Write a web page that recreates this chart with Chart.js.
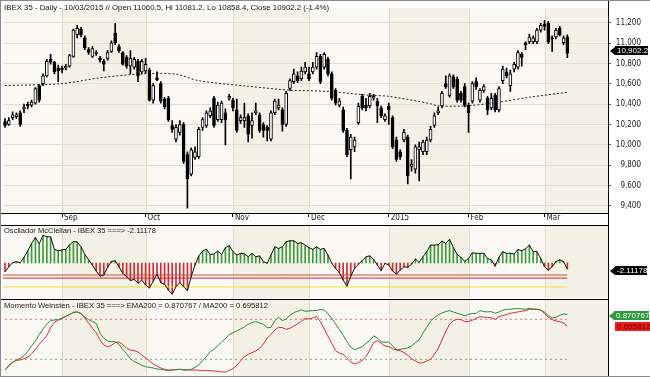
<!DOCTYPE html>
<html>
<head>
<meta charset="utf-8">
<script src="https://cdn.jsdelivr.net/npm/chart.js@4.4.1/dist/chart.umd.min.js"></script>
<style>
html, body { margin: 0; padding: 0; background: #fff; }
#wrap { position: relative; width: 650px; height: 377px; overflow: hidden; background: #fff; font-family: Arial, 'Liberation Sans', sans-serif; }
canvas { position: absolute; left: 0; }
.title { position: absolute; left: 4px; font-size: 8px; line-height: 10px; color: #1a1a1a; white-space: nowrap; transform-origin: 0 50%; }
.badge { position: absolute; right: 0; height: 9px; display: flex; align-items: center; overflow: hidden; }
.arr { width: 0; height: 0; border-top: 4.5px solid transparent; border-bottom: 4.5px solid transparent; border-right: 5px solid #000; }
.box { height: 9px; line-height: 9px; font-size: 8px; padding-left: 2px; white-space: nowrap; }
#frame { position: absolute; left: 0; top: 0; width: 650px; height: 377px; box-sizing: border-box; border: 1px solid #8a8a8a; border-right: none; pointer-events: none; }
</style>
</head>
<body>
<div id="wrap">
  <canvas id="priceChart" width="650" height="225" style="top:0"></canvas>
  <canvas id="mccChart" width="650" height="74" style="top:225px"></canvas>
  <canvas id="momChart" width="650" height="77" style="top:299px"></canvas>

  <div class="title" id="t1" style="top:3px">IBEX 35 - Daily - 10/03/2015 // Open 11060.5, Hi 11081.2, Lo 10858.4, Close 10902.2 (-1.4%)</div>
  <div class="title" id="t2" style="top:226px">Oscilador McClellan - IBEX 35 ===&gt; -2.11178</div>
  <div class="title" id="t3" style="top:301px">Momento Weinsten - IBEX 35 ===&gt; EMA200 = 0.870767 / MA200 = 0.695812</div>

  <div class="badge" style="top:46px; left:610px"><span class="arr"></span><span class="box" style="background:#000;color:#fff">10,902.2</span></div>
  <div class="badge" style="top:266px; left:610px"><span class="arr"></span><span class="box" style="background:#000;color:#fff">-2.11178</span></div>
  <div class="badge" style="top:311px; left:609px"><span class="arr" style="border-right-color:#2f9a3c"></span><span class="box" style="background:#2f9a3c;color:#fff">0.870767</span></div>
  <div class="badge" style="top:322px; left:615px"><span class="box" style="background:#ee1c1c;color:#5a0000">0.695812</span></div>
  <div id="frame"></div>
</div>
<script>
// daily candles, 11 Aug 2014 .. 10 Mar 2015 (index = trading day)
const opens = [10229,10200,10267,10277,10315,10353,10401,10391,10410,10583,
  10602,10678,10841,10812,10755,10755,10755,10774,10870,11080,
  11138,11052,10937,10870,10908,10851,10822,10851,10918,11100,
  10966,10908,10860,10774,10765,10822,10717,10726,10736,10439,
  10659,10602,10449,10458,10190,10056,10123,10200,9903,9712,
  9875,9884,10171,10190,10286,10458,10248,10248,10315,10458,
  10439,10343,10238,10238,10286,10190,10315,10296,10200,10171,
  10056,10315,10363,10343,10200,10554,10621,10678,10650,10717,
  10698,10717,10765,10870,10765,10841,10698,10535,10391,10343,
  10142,9951,9980,10219,10477,10391,10382,10458,10430,10363,
  10248,10382,10267,10047,9932,10047,10075,9788,9760,9951,
  9932,9932,10047,10190,10315,10382,10602,10487,10669,10650,
  10506,10573,10391,10430,10621,10439,10535,10458,10363,10487,
  10343,10631,10717,10583,10745,10765,10889,11004,11013,11013,
  11013,11128,11186,11195,11052,11061,11147,11004,11060.5];
const highs = [10257,10267,10324,10315,10334,10401,10420,10439,10564,10592,
  10698,10841,10889,10822,10784,10774,10793,10889,11138,11176,
  11157,11071,10956,10966,10927,10870,10841,10927,11023,11195,
  10985,10918,10879,10927,10860,10841,10841,10851,10755,10602,
  10717,10621,10468,10477,10238,10200,10238,10219,9932,9970,
  9980,10171,10267,10334,10363,10477,10420,10430,10353,10497,
  10458,10449,10296,10410,10305,10315,10410,10315,10219,10190,
  10334,10449,10449,10363,10525,10650,10745,10717,10765,10812,
  10765,10812,10908,10889,10908,10860,10717,10554,10458,10372,
  10162,10104,10075,10410,10497,10458,10506,10497,10458,10382,
  10305,10410,10286,10075,9951,10152,10095,9855,9999,10028,
  10047,10075,10181,10315,10372,10525,10678,10698,10688,10669,
  10525,10602,10410,10621,10659,10554,10592,10477,10506,10506,
  10573,10774,10755,10736,10812,10927,10908,11013,11090,11071,
  11147,11195,11224,11214,11071,11147,11166,11071,11081.2];
const lows = [10171,10190,10248,10257,10181,10315,10353,10372,10401,10420,
  10583,10669,10793,10698,10621,10707,10736,10765,10860,11052,
  11061,10937,10889,10860,10879,10812,10726,10832,10908,10985,
  10908,10784,10755,10698,10745,10621,10698,10707,10430,10410,
  10631,10410,10353,10229,10123,10028,10095,9817,9377,9693,
  9855,9865,10142,10171,10267,10171,10229,10219,9999,10439,
  10334,10123,10210,10171,10028,10066,10296,10123,10075,10037,
  10037,10296,10343,10133,10181,10535,10602,10611,10631,10698,
  10631,10698,10745,10602,10745,10678,10439,10391,10372,10123,
  9884,9664,9932,10200,10343,10334,10363,10439,10219,10267,
  10229,10200,9961,9836,9855,10028,9616,9740,9721,9645,
  9903,9903,10028,10171,10296,10363,10554,10468,10554,10420,
  10420,10372,10123,10410,10544,10420,10516,10296,10343,10324,
  10324,10602,10659,10525,10717,10745,10774,10937,10994,10994,
  10994,11109,11128,10994,10918,11042,11071,10985,10858.4];
const closes = [10190,10238,10296,10296,10200,10372,10382,10420,10554,10439,
  10678,10822,10812,10717,10726,10736,10774,10879,11128,11147,
  11080,10956,10908,10946,10898,10832,10793,10908,11004,11004,
  10927,10793,10774,10851,10841,10678,10822,10793,10439,10583,
  10640,10430,10372,10248,10152,10171,10200,9836,9664,9951,
  9932,10152,10248,10315,10334,10190,10391,10410,10248,10477,
  10363,10142,10267,10267,10104,10238,10334,10142,10142,10142,
  10315,10430,10391,10200,10506,10631,10698,10631,10726,10765,
  10650,10765,10870,10621,10889,10698,10458,10410,10430,10142,
  9903,10075,10047,10382,10363,10363,10477,10477,10382,10286,
  10286,10343,9980,9855,9884,10123,9693,9808,9980,9980,
  10028,10047,10152,10286,10334,10506,10573,10678,10573,10439,
  10439,10391,10315,10602,10573,10535,10573,10343,10458,10343,
  10554,10745,10678,10698,10793,10908,10860,10985,11061,11052,
  11128,11176,11166,11013,11042,11128,11080,11052,10902.2];

// 200-day moving average (dotted), read at selected days
const maDay = [0, 15, 25, 36, 45, 51, 64, 75, 85, 96, 101, 112, 114, 122, 130, 138, 148];
const maPrice = [10583, 10602, 10659, 10698, 10695, 10631, 10576, 10538, 10525, 10487, 10477, 10404, 10382, 10385, 10420, 10468, 10516];

// McClellan oscillator
const mcc = [-3.0,-1.3,0.1,0.5,0.1,2.0,4.3,6.9,9.0,6.7,
  9.8,9.2,9.2,4.8,4.3,4.6,4.8,6.4,7.5,7.4,
  5.7,3.0,1.1,-0.7,-2.8,-4.6,-4.2,-1.5,0.6,0.8,
  -1.3,-3.6,-4.8,-6.2,-5.7,-7.1,-6.0,-7.7,-8.7,-6.5,
  -3.9,-6.9,-7.5,-9.5,-10.9,-8.3,-6.9,-8.3,-9.7,-4.8,
  -0.7,2.5,4.2,4.9,3.0,3.2,4.2,3.0,5.4,6.1,
  4.0,2.8,3.4,3.2,2.2,3.4,2.2,2.5,0.5,-0.1,
  2.8,5.7,5.1,5.7,7.5,7.8,7.8,6.9,7.1,6.3,
  5.4,4.8,5.7,4.8,5.1,2.8,-0.1,-1.9,-3.4,-6.0,
  -8.1,-4.6,-1.9,-0.4,0.8,2.2,2.5,1.3,-0.7,-2.7,
  -0.1,-0.7,-2.8,-3.9,-2.5,-1.3,-1.5,-0.4,1.4,0.2,
  2.2,4.0,6.3,6.3,6.4,7.7,6.9,8.3,5.5,3.0,
  2.0,0.6,1.6,3.6,3.4,3.4,3.4,1.6,1.1,-1.1,
  2.0,4.0,3.4,3.4,3.2,4.8,4.3,5.0,6.3,4.0,
  4.0,1.6,-1.3,-2.5,-1.3,0.5,1.1,0.5,-2.11178];
const mccLevels = [-4.2, -5.3, -8.4];

// Momento Weinstein
const ema200 = [0.04,0.10,0.15,0.19,0.215,0.255,0.32,0.40,0.475,0.57,
  0.655,0.725,0.78,0.79,0.795,0.82,0.845,0.875,0.90,0.91,
  0.88,0.835,0.795,0.765,0.74,0.59,0.515,0.475,0.465,0.465,
  0.425,0.35,0.285,0.21,0.165,0.14,0.11,0.09,0.08,0.07,
  0.055,0.05,0.04,0.035,0.04,0.045,0.05,0.045,0.04,0.05,
  0.08,0.115,0.18,0.24,0.315,0.35,0.405,0.46,0.51,0.57,
  0.60,0.625,0.655,0.685,0.725,0.75,0.765,0.745,0.725,0.675,
  0.68,0.78,0.83,0.78,0.805,0.86,0.90,0.92,0.94,0.92,
  0.925,0.93,0.93,0.945,0.94,0.88,0.815,0.73,0.65,0.56,
  0.465,0.38,0.345,0.365,0.39,0.44,0.48,0.55,0.52,0.46,
  0.455,0.46,0.405,0.34,0.35,0.36,0.37,0.40,0.45,0.49,
  0.59,0.68,0.77,0.825,0.865,0.895,0.915,0.93,0.91,0.89,
  0.875,0.85,0.875,0.885,0.89,0.93,0.915,0.91,0.915,0.89,
  0.91,0.935,0.95,0.95,0.96,0.96,0.955,0.95,0.965,0.955,
  0.95,0.94,0.905,0.855,0.82,0.83,0.86,0.88,0.870767];
const ma200 = [0.04,0.11,0.16,0.185,0.19,0.21,0.235,0.28,0.35,0.425,
  0.49,0.555,0.675,0.755,0.785,0.81,0.845,0.87,0.905,0.91,
  0.89,0.82,0.745,0.665,0.60,0.49,0.415,0.385,0.41,0.45,
  0.46,0.42,0.365,0.34,0.33,0.31,0.265,0.22,0.18,0.13,
  0.10,0.07,0.05,0.04,0.04,0.045,0.05,0.04,0.04,0.04,
  0.04,0.035,0.03,0.03,0.03,0.025,0.02,0.01,0.01,0.035,
  0.06,0.11,0.175,0.24,0.275,0.30,0.325,0.365,0.43,0.515,
  0.575,0.64,0.68,0.675,0.65,0.665,0.70,0.73,0.77,0.81,
  0.805,0.82,0.84,0.765,0.655,0.55,0.44,0.33,0.295,0.275,
  0.215,0.16,0.13,0.15,0.185,0.24,0.335,0.45,0.48,0.44,
  0.40,0.39,0.36,0.34,0.33,0.30,0.26,0.21,0.175,0.145,
  0.15,0.175,0.20,0.275,0.36,0.49,0.615,0.725,0.78,0.80,
  0.795,0.765,0.765,0.785,0.815,0.84,0.83,0.83,0.82,0.80,
  0.84,0.855,0.87,0.89,0.90,0.91,0.92,0.93,0.95,0.95,
  0.95,0.935,0.885,0.83,0.795,0.775,0.765,0.745,0.695812];
const momLevels = [0.8, 0.2];

// month starts (trading-day index) and their labels
const monthDay = [15, 37, 60, 80, 101, 122, 142];
const monthLabel = ['Sep', 'Oct', 'Nov', 'Dec', '2015', 'Feb', 'Mar'];
const priceTicks = [9400, 9600, 9800, 10000, 10200, 10400, 10600, 10800, 11000, 11200];

const X_MIN = -0.53, X_MAX = 158.7;
const CREAM = '#f3f1e5', LIGHT = '#f9f8f2';
const lastDay = closes.length - 1;
const tickFont = { family: "'Liberation Sans Narrow', 'Arial Narrow', 'DejaVu Sans Condensed', Arial, sans-serif", size: 8 };

// month bands behind every panel
const bandPlugin = {
    id: 'bands',
    beforeDraw(chart) {
        const { ctx, chartArea: a, scales: { x } } = chart;
        ctx.save();
        ctx.fillStyle = CREAM;
        ctx.fillRect(a.left, a.top, a.width, a.height);
        const edges = [X_MIN, ...monthDay, X_MAX];
        for (let k = 0; k < edges.length - 1; k += 2) {
            const x0 = x.getPixelForValue(edges[k]);
            const x1 = x.getPixelForValue(edges[k + 1]);
            ctx.fillStyle = LIGHT;
            ctx.fillRect(x0, a.top, x1 - x0, a.height);
        }
        ctx.strokeStyle = '#dedbcb';
        ctx.lineWidth = 1;
        monthDay.forEach(d => {
            const px = Math.round(x.getPixelForValue(d)) + 0.5;
            ctx.beginPath();
            ctx.moveTo(px, a.top);
            ctx.lineTo(px, a.bottom);
            ctx.stroke();
        });
        ctx.restore();
    }
};

// black separators between panels and the right edge line
const framePlugin = {
    id: 'frame',
    afterDraw(chart, args, opts) {
        const { ctx, chartArea: a } = chart;
        ctx.save();
        ctx.strokeStyle = '#000';
        ctx.lineWidth = 1;
        ctx.beginPath();
        ctx.moveTo(a.right + 0.5, 0);
        ctx.lineTo(a.right + 0.5, chart.height);
        if (opts.top) {
            ctx.moveTo(0, 0.5);
            ctx.lineTo(a.right, 0.5);
        }
        if (opts.bottom) {
            ctx.moveTo(0, a.bottom + 0.5);
            ctx.lineTo(a.right, a.bottom + 0.5);
        }
        ctx.stroke();
        ctx.restore();
    }
};

function xScale(show) {
    return { type: 'linear', min: X_MIN, max: X_MAX, offset: false, display: show, grid: { offset: false } };
}

const baseOptions = {
    responsive: false,
    animation: false,
    events: [],
    plugins: { legend: { display: false }, tooltip: { enabled: false } }
};

// --- price panel ---
const days = closes.map((c, i) => i);
const priceX = xScale(true);
Object.assign(priceX, {
    afterBuildTicks: (scale) => { scale.ticks = monthDay.map(v => ({ value: v })); },
    afterFit: (scale) => { scale.height = 12; },
    border: { display: false },
    grid: { offset: false, drawOnChartArea: false, drawTicks: true, tickLength: 4, color: '#000' },
    ticks: {
        align: 'start', labelOffset: 2, padding: -4, maxRotation: 0, autoSkip: false,
        color: '#222', font: tickFont,
        callback: (v) => monthLabel[monthDay.indexOf(v)]
    }
});

new Chart(document.getElementById('priceChart'), {
    type: 'bar',
    data: {
        datasets: [
            {
                label: 'body',
                order: 1,
                grouped: false,
                data: days.map(i => ({ x: i, y: [opens[i], closes[i]] })),
                backgroundColor: days.map(i => closes[i] >= opens[i] ? '#ffffff' : '#000000'),
                borderColor: '#000',
                borderWidth: 1,
                borderSkipped: false,
                barThickness: 3,
                minBarLength: 1
            },
            {
                label: 'wick',
                order: 2,
                grouped: false,
                data: days.map(i => ({ x: i, y: [lows[i], highs[i]] })),
                backgroundColor: '#000',
                borderWidth: 0,
                barThickness: 1
            },
            {
                type: 'line',
                label: 'MA200',
                order: 3,
                data: maDay.map((d, k) => ({ x: d, y: maPrice[k] })),
                borderColor: '#222',
                borderWidth: 1,
                borderDash: [2, 2],
                pointRadius: 0,
                tension: 0.3
            }
        ]
    },
    options: {
        ...baseOptions,
        layout: { padding: { left: 3, right: 9, top: 2, bottom: 0 } },
        plugins: { ...baseOptions.plugins, frame: { bottom: true } },
        scales: {
            x: priceX,
            y: {
                position: 'right',
                min: 9329,
                max: 11348,
                afterBuildTicks: (scale) => { scale.ticks = priceTicks.map(v => ({ value: v })); },
                afterFit: (scale) => { scale.width = 33; },
                border: { display: false },
                grid: { color: '#e2dfcf', tickColor: '#555', tickLength: 3 },
                ticks: {
                    crossAlign: 'far', color: '#222', font: tickFont,
                    callback: (v) => v.toLocaleString('en-US')
                }
            }
        }
    },
    plugins: [bandPlugin, framePlugin]
});

// --- McClellan panel ---
const levelColors = ['#c8524a', '#d42a2a', '#eee23a'];
new Chart(document.getElementById('mccChart'), {
    type: 'bar',
    data: {
        datasets: [
            {
                type: 'line',
                label: 'McClellan',
                order: 1,
                data: days.map(i => ({ x: i, y: mcc[i] })),
                borderColor: '#111',
                borderWidth: 1,
                pointRadius: 0,
                tension: 0
            },
            ...mccLevels.map((v, k) => ({
                type: 'line',
                label: 'level' + k,
                order: 2,
                data: [{ x: X_MIN, y: v }, { x: lastDay, y: v }],
                borderColor: levelColors[k],
                borderWidth: 1,
                pointRadius: 0
            })),
            {
                label: 'hatch',
                order: 3,
                grouped: false,
                data: days.map(i => ({ x: i, y: mcc[i] })),
                backgroundColor: mcc.map(v => v >= 0 ? '#3d9a3d' : '#cf2b35'),
                borderWidth: 0,
                barThickness: 1
            }
        ]
    },
    options: {
        ...baseOptions,
        layout: { padding: { left: 3, right: 42, top: 1, bottom: 1 } },
        plugins: { ...baseOptions.plugins, frame: { top: true } },
        scales: {
            x: xScale(false),
            y: { display: false, min: -12.28, max: 13.0 }
        }
    },
    plugins: [bandPlugin, framePlugin]
});

// --- Weinstein momentum panel ---
new Chart(document.getElementById('momChart'), {
    type: 'line',
    data: {
        datasets: [
            {
                label: 'EMA200',
                data: days.map(i => ({ x: i, y: ema200[i] })),
                borderColor: '#2b8a3b',
                borderWidth: 1,
                pointRadius: 0
            },
            {
                label: 'MA200',
                data: days.map(i => ({ x: i, y: ma200[i] })),
                borderColor: '#e5283a',
                borderWidth: 1,
                pointRadius: 0
            },
            ...momLevels.map((v, k) => ({
                label: 'lvl' + k,
                data: [{ x: 0, y: v }, { x: lastDay, y: v }],
                borderColor: k === 0 ? '#e0707c' : '#74ae70',
                borderWidth: 1,
                borderDash: [2, 3],
                pointRadius: 0
            }))
        ]
    },
    options: {
        ...baseOptions,
        layout: { padding: { left: 3, right: 42, top: 1, bottom: 0 } },
        plugins: { ...baseOptions.plugins, frame: { top: true } },
        scales: {
            x: xScale(false),
            y: { display: false, min: -0.05, max: 1.089 }
        }
    },
    plugins: [bandPlugin, framePlugin]
});

// squeeze panel titles to the width they take in the original
function fitTitle(id, width) {
    const el = document.getElementById(id);
    const w = el.getBoundingClientRect().width;
    el.style.transform = 'scaleX(' + (width / w) + ')';
}
fitTitle('t1', 325);
fitTitle('t2', 152);
fitTitle('t3', 264);
</script>
</body>
</html>
